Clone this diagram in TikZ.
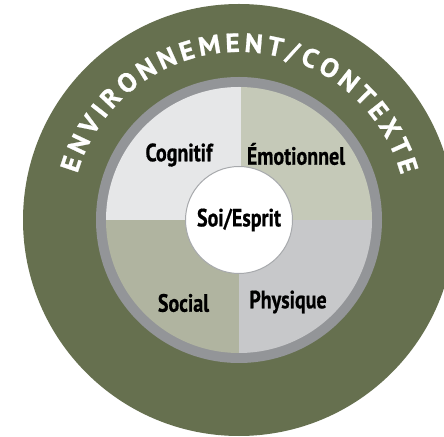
\documentclass[tikz,border=0pt]{standalone}
\usepackage{fontspec}
\setmainfont{PT Sans}[BoldFont={PT Sans Bold}]
\newfontfamily\lblfont{PT Sans Bold}[FakeStretch=0.8,FakeBold=0.6]
\newfontfamily\ringfont{PT Sans Bold}[FakeBold=0.8,FakeStretch=1.04]
\usetikzlibrary{decorations.text,calc}
\definecolor{outergreen}{HTML}{66704F}
\definecolor{ringgray}{HTML}{939598}
\definecolor{qcog}{HTML}{E6E7E8}
\definecolor{qemo}{HTML}{C5C9B8}
\definecolor{qsoc}{HTML}{B0B4A0}
\definecolor{qphy}{HTML}{C7C8CA}
\definecolor{edgegray}{HTML}{A7A9AC}
\tikzset{lbl/.style={font=\lblfont\fontsize{25}{27}\selectfont,text=black,inner sep=0pt,anchor=center}}
\begin{document}
\begin{tikzpicture}[x=1pt,y=1pt]
\useasboundingbox (0,0) rectangle (444,436);
\clip (0,0) rectangle (444,436);
\coordinate (C) at (239,216);
\fill[white] (0,0) rectangle (444,436);
\fill[outergreen] (C) circle (216);
\fill[ringgray] (C) circle (143);
\begin{scope}
\clip (C) circle (133);
\fill[qcog] (100,216) rectangle (241,360);
\fill[qemo] (241,216) rectangle (380,360);
\fill[qsoc] (100,216) rectangle (239,80);
\fill[qphy] (239,216) rectangle (380,80);
\end{scope}
\node[circle,draw=edgegray,line width=1pt,fill=white,minimum size=107pt,inner sep=0pt] (self) at (C) {};
\node[lbl] (soi) at (239,216) {Soi/Esprit};
\node[lbl] (cog) at (179,281) {Cognitif};
\node[lbl] (emo) at (296,282) {Émotionnel};
\node[lbl] (soc) at (183.5,133) {Social};
\node[lbl] (phy) at (288,134) {Physique};
\path[decorate,decoration={text along path,text align=fit to path,
  text={|\ringfont\fontsize{26.5}{29}\selectfont\color{white}|ENVIRONNEMENT/CONTEXTE}}]
  ($(C)+(164:168)$) arc[start angle=164,end angle=15.5,radius=168];
\end{tikzpicture}
\end{document}
